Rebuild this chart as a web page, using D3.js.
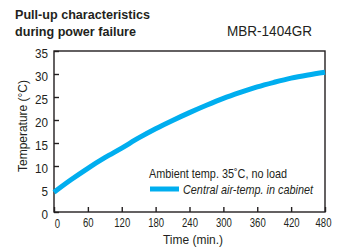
<!DOCTYPE html>
<html lang="en">
  <head>
    <meta charset="utf-8" />
    <title>Pull-up characteristics during power failure</title>
    <script src="https://d3js.org/d3.v7.min.js"></script>
    <style>
      body {
        margin: 0;
        background: #fff;
      }
      text {
        font-family: "Liberation Sans", Arial, sans-serif;
        fill: #231f20;
      }
    </style>
  </head>
  <body>
    <svg id="chart"></svg>
    <script>
      // data
      const times = [0, 30, 60, 90, 120, 150, 180, 210, 240, 270, 300, 330, 360, 390, 420, 450, 480];
      const temps = [4.3, 7.0, 9.5, 11.8, 13.9, 16.1, 18.1, 19.9, 21.6, 23.2, 24.7, 26.0, 27.2, 28.2, 29.1, 29.8, 30.4];
      const xTicks = [0, 60, 120, 180, 240, 300, 360, 420, 480];
      const yTicks = [0, 5, 10, 15, 20, 25, 30, 35];

      const W = 346, H = 251;
      const margin = { top: 51, right: 21, bottom: 39, left: 54 };

      const svg = d3.select("#chart").attr("width", W).attr("height", H);

      // the original uses a condensed face; squeeze the glyphs to its widths
      function fit(sel, w) {
        return sel.attr("textLength", w).attr("lengthAdjust", "spacingAndGlyphs");
      }

      const x = d3.scaleLinear().domain([0, 480]).range([margin.left, W - margin.right]);
      const y = d3.scaleLinear().domain([0, 35]).range([H - margin.bottom, margin.top]);

      // frame
      svg.append("rect")
        .attr("x", x(0)).attr("y", y(35))
        .attr("width", x(480) - x(0)).attr("height", y(0) - y(35))
        .attr("fill", "none").attr("stroke", "#231f20").attr("stroke-width", 1.4);

      // x axis, ticks pointing in
      const gx = svg.append("g")
        .attr("transform", `translate(0,${y(0)})`)
        .call(d3.axisBottom(x).tickValues(xTicks).tickSizeInner(-5).tickSizeOuter(0).tickPadding(6));
      gx.select(".domain").remove();
      gx.selectAll("line").attr("stroke", "#231f20").attr("stroke-width", 1.4);
      gx.selectAll("text").attr("font-size", 12.6)
        .attr("dx", (d) => (d === 0 ? 3 : d === 480 ? -2 : 0))
        .attr("dy", (d) => (d === 0 ? "0.8em" : "0.71em"))
        .each(function (d) {
          fit(d3.select(this), String(d).length * 5.3);
        });

      // y axis
      const gy = svg.append("g")
        .attr("transform", `translate(${x(0)},0)`)
        .call(d3.axisLeft(y).tickValues(yTicks).tickSizeInner(-5).tickSizeOuter(0).tickPadding(6));
      gy.select(".domain").remove();
      gy.selectAll("line").attr("stroke", "#231f20").attr("stroke-width", 1.4);
      gy.selectAll("text").attr("font-size", 13.6)
        .attr("dy", "0.5em")
        .each(function (d) {
          fit(d3.select(this), String(d).length * 6.5);
        });
      svg.selectAll("g").attr("font-family", null);

      // curve
      const line = d3.line()
        .x((d, i) => x(times[i]))
        .y((d) => y(d))
        .curve(d3.curveMonotoneX);

      svg.append("path")
        .datum(temps)
        .attr("d", line)
        .attr("fill", "none")
        .attr("stroke", "#00aeef")
        .attr("stroke-width", 5);

      // titles
      fit(svg.append("text").attr("x", 15).attr("y", 19)
        .attr("font-size", 13.5).attr("font-weight", "bold")
        .text("Pull-up characteristics"), 135);
      fit(svg.append("text").attr("x", 15).attr("y", 36)
        .attr("font-size", 13.5).attr("font-weight", "bold")
        .text("during power failure"), 121);
      fit(svg.append("text").attr("x", 227).attr("y", 36)
        .attr("font-size", 14)
        .text("MBR-1404GR"), 85);

      // axis labels
      fit(svg.append("text")
        .attr("transform", "translate(27,126) rotate(-90)")
        .attr("text-anchor", "middle").attr("font-size", 13)
        .text("Temperature (°C)"), 92);
      fit(svg.append("text")
        .attr("x", 193).attr("y", 244)
        .attr("text-anchor", "middle").attr("font-size", 12.5)
        .text("Time (min.)"), 60);

      // legend
      fit(svg.append("text").attr("x", 149).attr("y", 178)
        .attr("font-size", 12.2)
        .text("Ambient temp. 35˚C, no load"), 138);
      svg.append("line")
        .attr("x1", 150).attr("x2", 179).attr("y1", 189).attr("y2", 189)
        .attr("stroke", "#00aeef").attr("stroke-width", 5);
      fit(svg.append("text").attr("x", 183).attr("y", 193.5)
        .attr("font-size", 12.2).attr("font-style", "italic")
        .text("Central air-temp. in cabinet"), 130);
    </script>
  </body>
</html>
